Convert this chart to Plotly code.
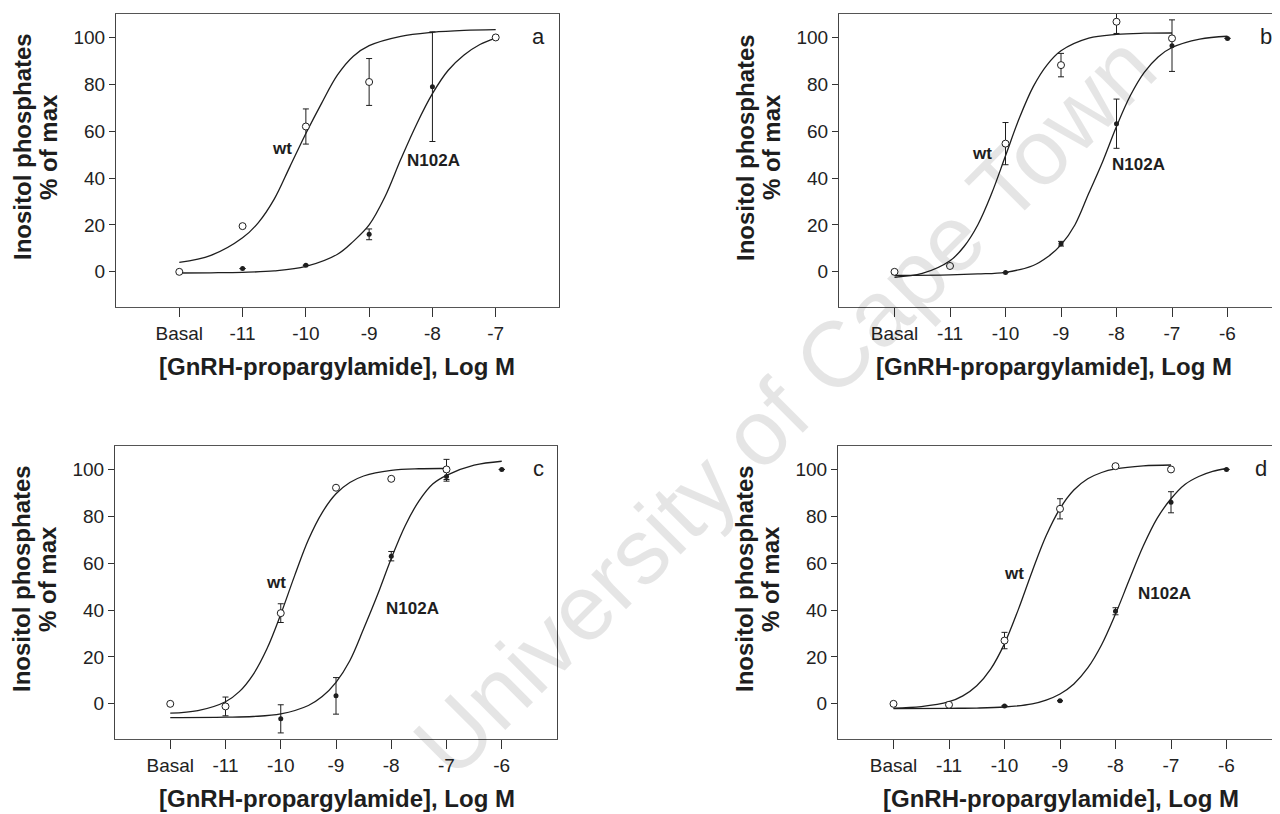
import plotly.graph_objects as go

# The page body has an 8px margin, so the figure is sized to fit the 1280x814 window.
OFF = 8
W, H = 1280 - OFF, 814 - OFF
FONT = "Liberation Sans, Arial, Helvetica, sans-serif"
INK = "#1e1e1e"


def pxx(px):
    return (px - OFF) / W


def pxy(py):
    return 1 - (py - OFF) / H


# ---------------- shared tick labels ----------------
tick_pos = [-12, -11, -10, -9, -8, -7, -6]
tick_text = ["Basal", "-11", "-10", "-9", "-8", "-7", "-6"]
y_ticks = [0, 20, 40, 60, 80, 100]

# ---------------- panel a ----------------
a_wt_x = [-12, -11, -10, -9, -7]
a_wt_y = [0, 19.5, 62, 81, 100]
a_wt_err = [None, None, 7.5, 10, None]
a_mut_x = [-12, -11, -10, -9, -8, -7]
a_mut_y = [0, 1.4, 2.8, 16, 79, 100]
a_mut_err = [None, None, None, 2.3, 23.4, None]
a_wt_cx = [-12, -11.5, -11, -10.75, -10.5, -10.25, -10, -9.75, -9.5, -9.25, -9, -8.5, -8, -7.5, -7]
a_wt_cy = [4.0, 7.0, 14.5, 21, 31, 45, 59, 72, 84, 92, 96.5, 100.5, 102.2, 103, 103.3]
a_mut_cx = [-12, -11.5, -11, -10.5, -10, -9.5, -9.25, -9, -8.75, -8.5, -8.25, -8, -7.75, -7.5, -7.25, -7]
a_mut_cy = [-0.5, -0.4, -0.2, 0.4, 2.3, 7.5, 13, 20, 32, 48, 63, 76, 86, 92.5, 97, 99.7]

# ---------------- panel b ----------------
b_wt_x = [-12, -11, -10, -9, -8, -7]
b_wt_y = [0, 2.5, 54.7, 88.2, 106.7, 99.6]
b_wt_err = [None, None, 9, 5, 5, None]
b_mut_x = [-10, -9, -8, -7, -6]
b_mut_y = [-0.3, 12, 63.2, 96.5, 99.6]
b_mut_err = [None, 1, 10.5, 11, None]
b_wt_cx = [-12, -11.5, -11, -10.75, -10.5, -10.25, -10, -9.75, -9.5, -9.25, -9, -8.5, -8, -7.5, -7]
b_wt_cy = [-2.3, -0.7, 4.7, 10.7, 20, 33.4, 49.5, 65.6, 79, 88.3, 94.3, 99.7, 101.3, 101.8, 101.9]
b_mut_cx = [-12, -11, -10.5, -10, -9.5, -9.25, -9, -8.75, -8.5, -8.25, -8, -7.75, -7.5, -7.25, -7, -6.5, -6]
b_mut_cy = [-1.5, -1.3, -0.9, -0.2, 2.7, 6.2, 11.5, 20, 33.5, 47, 62, 75.2, 85.1, 91.7, 95.7, 99.3, 100.5]

# ---------------- panel c ----------------
c_wt_x = [-12, -11, -10, -9, -8, -7]
c_wt_y = [0, -1.1, 38.7, 92.2, 96, 100]
c_wt_err = [None, 4, 4, None, None, 4.3]
c_mut_x = [-10, -9, -8, -7, -6]
c_mut_y = [-6.4, 3.4, 63, 97, 100]
c_mut_err = [6, 7.8, 2, 2, None]
c_wt_cx = [-12, -11.5, -11, -10.75, -10.5, -10.25, -10, -9.75, -9.5, -9.25, -9, -8.75, -8.5, -8, -7.5, -7]
c_wt_cy = [-4.0, -2.9, 0.9, 5.2, 12.5, 23.5, 38.2, 54.6, 70, 81.6, 89.6, 94.4, 97.2, 99.6, 100.3, 100.4]
c_mut_cx = [-12, -11, -10.5, -10, -9.5, -9.25, -9, -8.75, -8.5, -8.25, -8, -7.75, -7.5, -7.25, -7, -6.5, -6]
c_mut_cy = [-5.9, -5.7, -5.4, -4.3, -0.7, 3.1, 9.2, 18.4, 32, 46.4, 62, 75.9, 86.5, 93.8, 97.5, 101.8, 103.5]

# ---------------- panel d ----------------
d_wt_x = [-12, -11, -10, -9, -8, -7]
d_wt_y = [0, -0.4, 27, 83.2, 101.4, 100]
d_wt_err = [None, None, 3.5, 4.3, None, None]
d_mut_x = [-10, -9, -8, -7, -6]
d_mut_y = [-0.9, 1.3, 39.5, 86, 100]
d_mut_err = [None, None, 1.5, 4.5, None]
d_wt_cx = [-12, -11.5, -11, -10.75, -10.5, -10.25, -10, -9.75, -9.5, -9.25, -9, -8.75, -8.5, -8.25, -8, -7.5, -7]
d_wt_cy = [-1.8, -1.2, 0.9, 3.4, 7.7, 14.8, 25.7, 40.3, 56.6, 71.7, 83.3, 91.2, 96, 98.7, 100.2, 101.5, 101.9]
d_mut_cx = [-12, -11, -10.5, -10, -9.5, -9.25, -9, -8.75, -8.5, -8.25, -8, -7.75, -7.5, -7.25, -7, -6.75, -6.5, -6.25, -6]
d_mut_cy = [-2, -1.9, -1.8, -1.35, 0, 1.6, 4.2, 8.5, 15.3, 25.2, 38.3, 53, 67.3, 79.1, 87.5, 93.6, 97, 99.2, 100.4]

panels = [
    dict(key="a", wt=(a_wt_x, a_wt_y, a_wt_err), mut=(a_mut_x, a_mut_y, a_mut_err),
         wtc=(a_wt_cx, a_wt_cy), mutc=(a_mut_cx, a_mut_cy),
         px=(116, 559), py=(14, 307), xr=[-13, -6], nt=6, mirror_y=True,
         wt_lab=(-10.38, 52.8), mut_lab=(-7.98, 47.3), let=(-6.33, 100.3), title_x=337),
    dict(key="b", wt=(b_wt_x, b_wt_y, b_wt_err), mut=(b_mut_x, b_mut_y, b_mut_err),
         wtc=(b_wt_cx, b_wt_cy), mutc=(b_mut_cx, b_mut_cy),
         px=(839, 1280), py=(14, 307), xr=[-13, -5.054], nt=7, mirror_y=False,
         wt_lab=(-10.43, 50.4), mut_lab=(-7.6, 45.7), let=(-5.31, 100.6), title_x=1054),
    dict(key="c", wt=(c_wt_x, c_wt_y, c_wt_err), mut=(c_mut_x, c_mut_y, c_mut_err),
         wtc=(c_wt_cx, c_wt_cy), mutc=(c_mut_cx, c_mut_cy),
         px=(115, 557), py=(446, 739), xr=[-13, -5], nt=7, mirror_y=True,
         wt_lab=(-10.09, 51.8), mut_lab=(-7.62, 40.5), let=(-5.33, 100.2), title_x=337),
    dict(key="d", wt=(d_wt_x, d_wt_y, d_wt_err), mut=(d_mut_x, d_mut_y, d_mut_err),
         wtc=(d_wt_cx, d_wt_cy), mutc=(d_mut_cx, d_mut_cy),
         px=(838, 1280), py=(446, 739), xr=[-13, -5.036], nt=7, mirror_y=False,
         wt_lab=(-9.83, 55.8), mut_lab=(-7.12, 46.9), let=(-5.37, 100.5), title_x=1061),
]

fig = go.Figure()
annotations = []
layout_axes = {}

for i, p in enumerate(panels, start=1):
    sfx = "" if i == 1 else str(i)
    xref, yref = "x" + sfx, "y" + sfx
    # fitted curves
    for cx, cy in (p["mutc"], p["wtc"]):
        fig.add_trace(go.Scatter(x=cx, y=cy, mode="lines", xaxis=xref, yaxis=yref,
                                 line=dict(color=INK, width=1.3, shape="spline", smoothing=1.0),
                                 showlegend=False, hoverinfo="skip"))
    # N102A points (filled)
    mx, my, me = p["mut"]
    fig.add_trace(go.Scatter(x=mx, y=my, mode="markers", xaxis=xref, yaxis=yref,
                             marker=dict(symbol="circle", size=5, color=INK),
                             error_y=dict(type="data", array=me, visible=True,
                                          color=INK, thickness=1, width=3),
                             showlegend=False))
    # wt points (open)
    wx, wy, we = p["wt"]
    fig.add_trace(go.Scatter(x=wx, y=wy, mode="markers", xaxis=xref, yaxis=yref,
                             marker=dict(symbol="circle", size=7, color="white",
                                         line=dict(color=INK, width=1)),
                             error_y=dict(type="data", array=we, visible=True,
                                          color=INK, thickness=1, width=3),
                             showlegend=False))

    x0, x1 = p["px"]
    y0, y1 = p["py"]
    xdom = [pxx(x0), min(1.0, pxx(x1))]
    ydom = [pxy(y1), pxy(y0)]
    nt = p["nt"]
    layout_axes["xaxis" + sfx] = dict(
        domain=xdom, range=p["xr"], anchor=yref,
        tickmode="array", tickvals=tick_pos[:nt], ticktext=tick_text[:nt],
        ticks="outside", ticklen=9, tickwidth=1, tickcolor="#333",
        showline=True, linecolor="#555", linewidth=1, mirror=True,
        showgrid=False, zeroline=False,
        tickfont=dict(family=FONT, size=19, color="#222"),
    )
    layout_axes["yaxis" + sfx] = dict(
        domain=ydom, range=[-15, 110], anchor=xref,
        tickmode="array", tickvals=y_ticks,
        ticks="outside", ticklen=6, tickwidth=1, tickcolor="#333",
        showline=True, linecolor="#444", linewidth=1, mirror=p["mirror_y"],
        showgrid=False, zeroline=False,
        tickfont=dict(family=FONT, size=19, color="#222"),
    )

    # curve labels
    annotations.append(dict(x=p["wt_lab"][0], y=p["wt_lab"][1], xref=xref, yref=yref,
                            text="<b>wt</b>", showarrow=False,
                            font=dict(family=FONT, size=17, color=INK)))
    annotations.append(dict(x=p["mut_lab"][0], y=p["mut_lab"][1], xref=xref, yref=yref,
                            text="<b>N102A</b>", showarrow=False,
                            font=dict(family=FONT, size=17, color=INK)))
    annotations.append(dict(x=p["let"][0], y=p["let"][1], xref=xref, yref=yref,
                            text=p["key"], showarrow=False,
                            font=dict(family=FONT, size=22, color=INK)))
    # x-axis title
    annotations.append(dict(x=pxx(p["title_x"]), y=pxy(y1 + 59), xref="paper", yref="paper",
                            text="<b>[GnRH-propargylamide], Log M</b>", showarrow=False,
                            xanchor="center", yanchor="middle",
                            font=dict(family=FONT, size=24, color=INK)))
    # y-axis title (two lines)
    ymid = pxy(y0 + 133)
    annotations.append(dict(x=pxx(x0 - 94), y=ymid, xref="paper", yref="paper",
                            text="<b>Inositol phosphates</b>", showarrow=False, textangle=-90,
                            xanchor="center", yanchor="middle",
                            font=dict(family=FONT, size=24, color=INK)))
    annotations.append(dict(x=pxx(x0 - 68), y=ymid, xref="paper", yref="paper",
                            text="<b>% of max</b>", showarrow=False, textangle=-90,
                            xanchor="center", yanchor="middle",
                            font=dict(family=FONT, size=24, color=INK)))

# watermark
annotations.append(dict(x=pxx(785), y=pxy(405), xref="paper", yref="paper",
                        text="University of Cape Town", showarrow=False, textangle=-45,
                        xanchor="center", yanchor="middle", borderpad=0,
                        font=dict(family=FONT, size=93, color="rgba(0,0,0,0.10)")))

fig.update_layout(
    width=W, height=H,
    margin=dict(l=0, r=0, t=0, b=0),
    paper_bgcolor="white", plot_bgcolor="white",
    showlegend=False,
    annotations=annotations,
    **layout_axes,
)

fig.write_html("out.html")
